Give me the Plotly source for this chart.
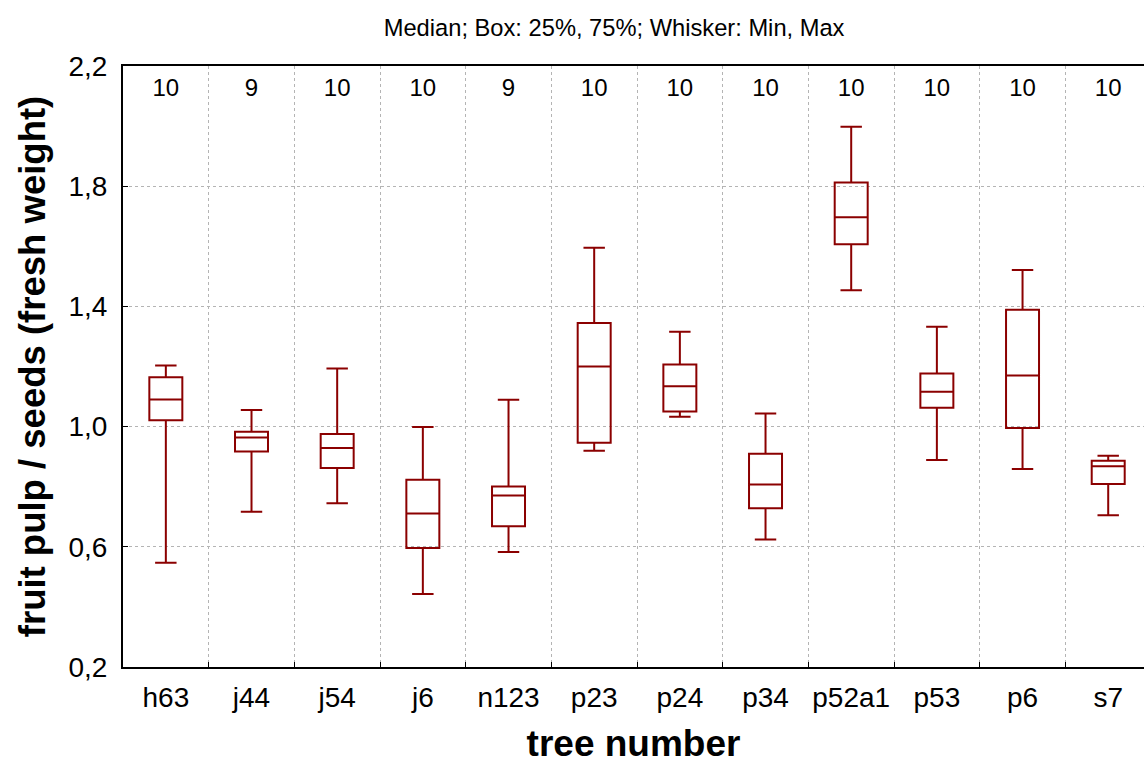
import plotly.graph_objects as go

categories = ["h63", "j44", "j54", "j6", "n123", "p23", "p24", "p34", "p52a1", "p53", "p6", "s7"]
counts = [10, 9, 10, 10, 9, 10, 10, 10, 10, 10, 10, 10]
minimum = [0.547, 0.717, 0.745, 0.443, 0.583, 0.920, 1.033, 0.624, 1.454, 0.889, 0.859, 0.705]
q25 = [1.021, 0.917, 0.862, 0.596, 0.668, 0.946, 1.050, 0.728, 1.607, 1.063, 0.995, 0.809]
median = [1.090, 0.964, 0.929, 0.711, 0.771, 1.200, 1.134, 0.807, 1.697, 1.116, 1.170, 0.868]
q75 = [1.164, 0.983, 0.975, 0.823, 0.801, 1.345, 1.207, 0.910, 1.812, 1.177, 1.389, 0.886]
maximum = [1.203, 1.055, 1.193, 0.999, 1.089, 1.595, 1.316, 1.044, 1.998, 1.332, 1.521, 0.903]
y_ticks = [0.2, 0.6, 1.0, 1.4, 1.8, 2.2]

pos = list(range(len(categories)))
bounds = [i + 0.5 for i in pos[:-1]]
RED = "#8B0000"
GRID = "#b4b4b4"
FONT = "Liberation Sans, Arial"

fig = go.Figure()
fig.add_trace(go.Box(
    x=pos, q1=q25, median=median, q3=q75,
    lowerfence=minimum, upperfence=maximum,
    width=0.385, whiskerwidth=0.65,
    line=dict(color=RED, width=2), fillcolor="rgba(255,255,255,0)",
    boxpoints=False, showlegend=False, hoverinfo="skip",
))
fig.add_trace(go.Scatter(
    x=pos, y=[2.12] * len(pos), text=[str(c) for c in counts],
    mode="text", textfont=dict(family=FONT, size=24, color="black"),
    showlegend=False, hoverinfo="skip",
))

fig.update_layout(
    width=1144, height=764,
    margin=dict(l=123, r=0, t=66, b=97),
    paper_bgcolor="white", plot_bgcolor="white",
    separators=", ",
    font=dict(family=FONT, color="black"),
    title=dict(text="Median; Box: 25%, 75%; Whisker: Min, Max",
               x=0.481, xref="paper", xanchor="center", y=0.964, yanchor="middle",
               font=dict(size=23.7, color="black")),
)
fig.update_xaxes(
    range=[-0.5, -0.5 + 1021 / 85.67],
    tickmode="array", tickvals=pos, ticktext=categories,
    ticks="", showgrid=False, zeroline=False,
    tickfont=dict(size=28), ticklabelstandoff=4,
    showline=True, linecolor="black", linewidth=2, mirror=True,
    minor=dict(tickmode="array", tickvals=bounds, ticks="inside", ticklen=5,
               tickcolor="black", showgrid=True, gridcolor=GRID, griddash="dot", gridwidth=1),
    title=dict(text="<b>tree number</b>", font=dict(size=37), standoff=21),
)
fig.update_yaxes(
    range=[0.2, 2.2],
    tickmode="array", tickvals=y_ticks, tickformat=".1f",
    ticks="inside", ticklen=5, tickcolor="black",
    showgrid=True, gridcolor=GRID, griddash="dot", gridwidth=1, zeroline=False,
    tickfont=dict(size=28), ticklabelstandoff=8,
    showline=True, linecolor="black", linewidth=2, mirror=False,
    title=dict(text="<b>fruit pulp / seeds (fresh weight)</b>", font=dict(size=36.5), standoff=12),
)

fig.write_html("out.html")
